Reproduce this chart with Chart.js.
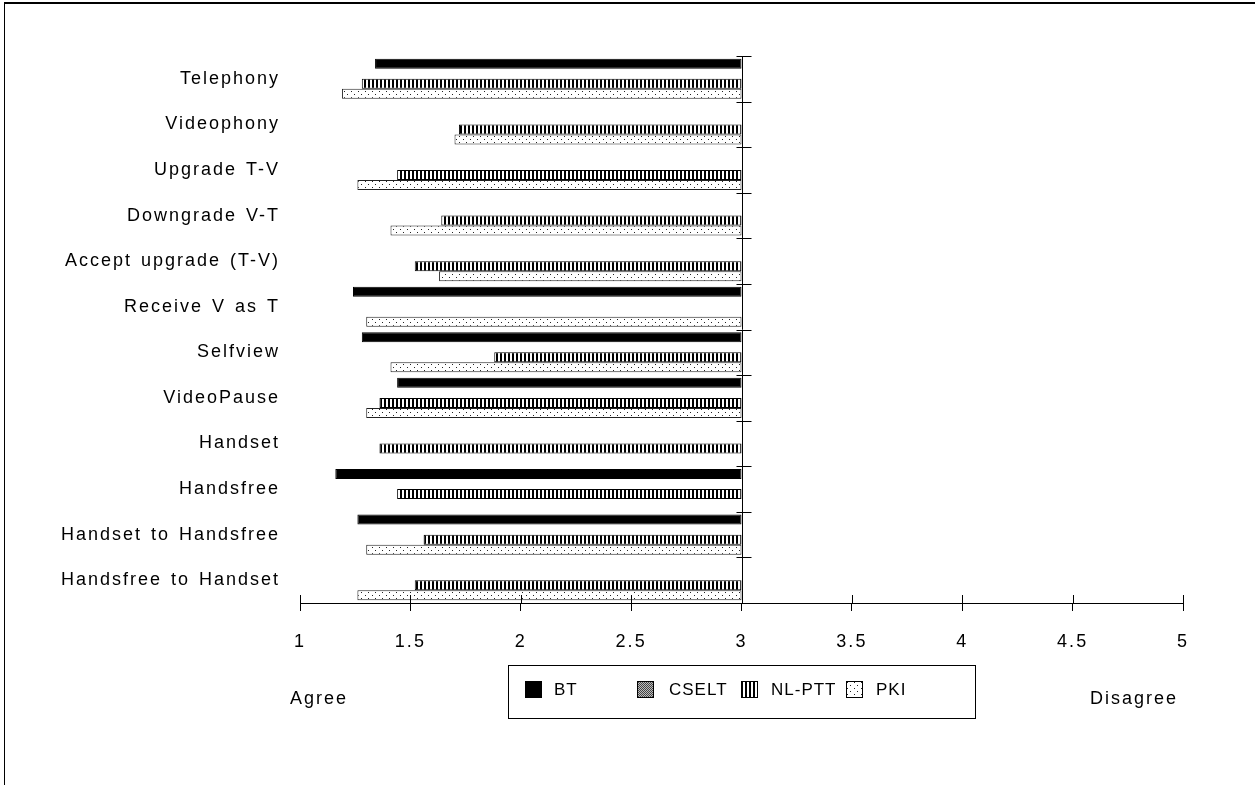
<!DOCTYPE html>
<html>
<head>
<meta charset="utf-8">
<script src="https://cdn.jsdelivr.net/npm/chart.js@4.4.1/dist/chart.umd.min.js"></script>
<style>
  html, body { margin: 0; padding: 0; background: #fff; }
  #wrap { position: relative; width: 1255px; height: 785px; overflow: hidden; font-family: 'Liberation Sans', Arial, sans-serif; color: #000; }
  #frame { position: absolute; left: 4px; top: 2px; right: -2px; bottom: -2px; border-left: 1px solid #000; border-top: 2px solid #000; }
  #chart { position: absolute; left: 0; top: 0; }
  .note { position: absolute; font-size: 18px; letter-spacing: 2px; line-height: 20px; }
  #legend { position: absolute; left: 508px; top: 665px; width: 466px; height: 52px; border: 1px solid #000; }
  .item { position: absolute; top: 15px; font-size: 17px; line-height: 18px; letter-spacing: 1px; }
  .item canvas { position: absolute; left: 0; top: 0; }
  .item span { position: absolute; top: 0; white-space: nowrap; }
</style>
</head>
<body>
<div id="wrap">
  <div id="frame"></div>
  <canvas id="chart" width="1255" height="785"></canvas>
  <div class="note" style="left:290px; top:688px;">Agree</div>
  <div class="note" style="left:1090px; top:688px;">Disagree</div>
  <div id="legend"></div>
</div>
<script>
const categories = ['Telephony', 'Videophony', 'Upgrade T-V', 'Downgrade V-T', 'Accept upgrade (T-V)', 'Receive V as T',
    'Selfview', 'VideoPause', 'Handset', 'Handsfree', 'Handset to Handsfree', 'Handsfree to Handset'];
const seriesNames = ['BT', 'CSELT', 'NL-PTT', 'PKI'];
const btValues = [1.34, null, null, null, null, 1.24, 1.28, 1.44, null, 1.16, 1.26, null];
const cseltValues = [null, null, null, null, null, null, null, null, null, null, null, null];
const nlpttValues = [1.28, 1.72, 1.44, 1.64, 1.52, null, 1.88, 1.36, 1.36, 1.44, 1.56, 1.52];
const pkiValues = [1.19, 1.70, 1.26, 1.41, 1.63, 1.30, 1.41, 1.30, null, null, 1.30, 1.26];
const xTicks = [1, 1.5, 2, 2.5, 3, 3.5, 4, 4.5, 5];
const axisCross = 3;

const fontFamily = "'Liberation Sans', Arial, sans-serif";

function makePattern(w, h, draw) {
    const c = document.createElement('canvas');
    c.width = w;
    c.height = h;
    const g = c.getContext('2d');
    draw(g);
    return g.createPattern(c, 'repeat');
}

const solid = '#000';
const stripes = makePattern(4, 4, (g) => {
    g.fillStyle = '#fff';
    g.fillRect(0, 0, 4, 4);
    g.fillStyle = '#000';
    g.fillRect(0, 0, 2, 4);
});
const dots = makePattern(7, 6, (g) => {
    g.fillStyle = '#fff';
    g.fillRect(0, 0, 7, 6);
    g.fillStyle = '#222';
    g.fillRect(1, 1, 1, 1);
    g.fillRect(4, 4, 1, 1);
});
const shade = makePattern(2, 2, (g) => {
    g.fillStyle = '#bbb';
    g.fillRect(0, 0, 2, 2);
    g.fillStyle = '#444';
    g.fillRect(0, 0, 1, 1);
    g.fillRect(1, 1, 1, 1);
});
const fills = [solid, shade, stripes, dots];

function toBars(values) {
    return values.map((v) => (v == null ? null : [v, axisCross]));
}

// canvas letter spacing, the source text is set wide
const spacing = {
    id: 'spacing',
    beforeUpdate(chart) { chart.ctx.letterSpacing = '2px'; chart.ctx.wordSpacing = '2px'; },
    beforeDraw(chart) { chart.ctx.letterSpacing = '2px'; chart.ctx.wordSpacing = '2px'; },
};

// value axis crossing at 3, plus tick marks that cross the x axis
const crossAxis = {
    id: 'crossAxis',
    afterDraw(chart) {
        const { ctx, chartArea, scales } = chart;
        const x = scales.x;
        const y = scales.y;
        const px = Math.round(x.getPixelForValue(axisCross)) + 0.5;
        ctx.save();
        ctx.strokeStyle = '#000';
        ctx.lineWidth = 1;
        ctx.beginPath();
        ctx.moveTo(px, chartArea.top);
        ctx.lineTo(px, chartArea.bottom);
        for (let i = 0; i <= categories.length; i++) {
            const py = Math.round(y.getPixelForValue(i - 0.5)) + 0.5;
            ctx.moveTo(px - 6, py);
            ctx.lineTo(px + 9, py);
        }
        x.ticks.forEach((t) => {
            const tx = Math.round(x.getPixelForValue(t.value)) + 0.5;
            ctx.moveTo(tx, chartArea.bottom - 8);
            ctx.lineTo(tx, chartArea.bottom);
        });
        ctx.stroke();
        ctx.restore();
    },
};

const ctx = document.getElementById('chart');

new Chart(ctx, {
    type: 'bar',
    data: {
        labels: categories,
        datasets: [
            { label: seriesNames[0], data: toBars(btValues), backgroundColor: fills[0], borderColor: '#000' },
            { label: seriesNames[1], data: toBars(cseltValues), backgroundColor: fills[1], borderColor: '#000' },
            { label: seriesNames[2], data: toBars(nlpttValues), backgroundColor: fills[2], borderColor: '#000' },
            { label: seriesNames[3], data: toBars(pkiValues), backgroundColor: fills[3], borderColor: '#222' },
        ],
    },
    options: {
        indexAxis: 'y',
        responsive: false,
        animation: false,
        events: [],
        layout: {
            padding: { top: 56, right: 72, bottom: 119, left: 0 },
        },
        datasets: {
            bar: {
                categoryPercentage: 0.88,
                barPercentage: 1,
                borderWidth: 1,
                borderSkipped: false,
            },
        },
        scales: {
            x: {
                type: 'linear',
                min: xTicks[0],
                max: xTicks[xTicks.length - 1],
                afterBuildTicks: (scale) => {
                    scale.ticks = xTicks.map((v) => ({ value: v }));
                },
                ticks: {
                    color: '#000',
                    padding: 20,
                    font: { family: fontFamily, size: 18 },
                    callback: (value) => String(value),
                },
                grid: {
                    drawOnChartArea: false,
                    tickLength: 8,
                    color: '#000',
                },
                border: { color: '#000' },
                afterFit: (scale) => {
                    scale.height = 63;
                },
            },
            y: {
                grid: { display: false, drawTicks: false },
                border: { display: false },
                ticks: {
                    color: '#000',
                    padding: 20,
                    font: { family: fontFamily, size: 18 },
                },
                afterFit: (scale) => {
                    scale.width = 300;
                },
            },
        },
        plugins: {
            legend: { display: false },
            tooltip: { enabled: false },
        },
    },
    plugins: [spacing, crossAxis],
});

// legend, placed the way the source lays out its entries
const legend = document.getElementById('legend');
const legendBoxX = [16, 128, 232, 337];
const legendTextX = [45, 160, 262, 367];
seriesNames.forEach((name, i) => {
    const item = document.createElement('div');
    item.className = 'item';
    item.style.left = legendBoxX[i] + 'px';
    const sw = document.createElement('canvas');
    sw.width = 17;
    sw.height = 17;
    const g = sw.getContext('2d');
    g.fillStyle = fills[i];
    g.fillRect(0, 0, 17, 17);
    g.strokeStyle = '#000';
    g.lineWidth = 1;
    g.strokeRect(0.5, 0.5, 16, 16);
    const label = document.createElement('span');
    label.style.left = (legendTextX[i] - legendBoxX[i]) + 'px';
    label.textContent = name;
    item.appendChild(sw);
    item.appendChild(label);
    legend.appendChild(item);
});
</script>
</body>
</html>
